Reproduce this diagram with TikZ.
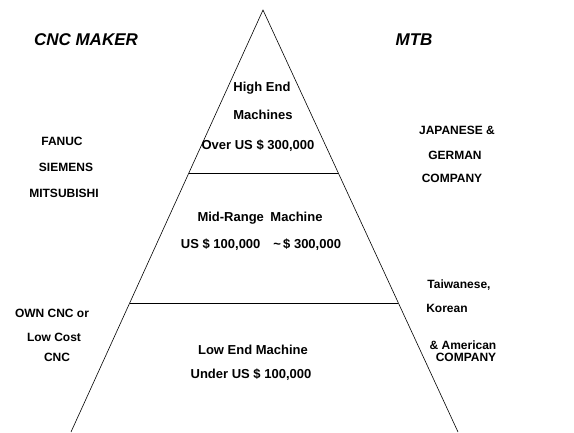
\documentclass[tikz,border=0pt]{standalone}
\usepackage{fontspec}
\setmainfont{Liberation Sans}
\usetikzlibrary{calc}

\begin{document}
\begin{tikzpicture}[x=1pt,y=-1pt,
  head/.style={font=\bfseries\itshape\fontsize{17}{20}\selectfont, inner sep=0pt},
  side/.style={font=\bfseries\fontsize{12}{14}\selectfont, inner sep=0pt},
  tier/.style={font=\bfseries\fontsize{13}{15}\selectfont, inner sep=0pt}]
  \useasboundingbox (0,0) rectangle (574,432);
  % Pyramid outline
  \coordinate (apex) at (263,10);
  \coordinate (bl) at (71,432);
  \coordinate (br) at (458,432);
  \draw[line width=0.6pt] (bl) -- (apex) -- (br);
  % Tier lines
  \coordinate (t1l) at ($(apex)!0.3863!(bl)$);
  \coordinate (t1r) at ($(apex)!0.3863!(br)$);
  \coordinate (t2l) at ($(apex)!0.6943!(bl)$);
  \coordinate (t2r) at ($(apex)!0.6943!(br)$);
  \draw[line width=0.6pt] (t1l) -- (t1r);
  \draw[line width=0.6pt] (t2l) -- (t2r);
  % Headings
  \node[head] (maker) at (86,40) {CNC MAKER};
  \node[head] (mtb) at (414,40) {MTB};
  % Top tier
  \node[tier] (high) at (262,88) {High End};
  \node[tier] (mach) at (263,115) {Machines};
  \node[tier] (over) at (258,146) {Over US \$ 300,000};
  % Middle tier
  \node[tier] (midr) at (260,218) {Mid-Range\enspace Machine};
  \node[tier] (midp) at (261,245) {US \$ 100,000\quad\textasciitilde\,\$ 300,000};
  % Bottom tier
  \node[tier] (lowe) at (253,350) {Low End Machine};
  \node[tier] (lowp) at (251,375) {Under US \$ 100,000};
  % CNC makers
  \node[side] (fanuc) at (62,141) {FANUC};
  \node[side] (siem) at (66,167) {SIEMENS};
  \node[side] (mits) at (64,193) {MITSUBISHI};
  \node[side] (own) at (52,313) {OWN CNC or};
  \node[side] (cost) at (54,337) {Low Cost};
  \node[side] (cnc) at (57,357) {CNC};
  % Machine tool builders
  \node[side] (jap) at (457,130) {JAPANESE \&};
  \node[side] (ger) at (455,155) {GERMAN};
  \node[side] (comp) at (452,178) {COMPANY};
  \node[side] (taiw) at (459,285) {Taiwanese,};
  \node[side] (kor) at (447,308) {Korean};
  \node[side] (amer) at (463,345) {\& American};
  \node[side] (comp2) at (466,357) {COMPANY};
\end{tikzpicture}
\end{document}
